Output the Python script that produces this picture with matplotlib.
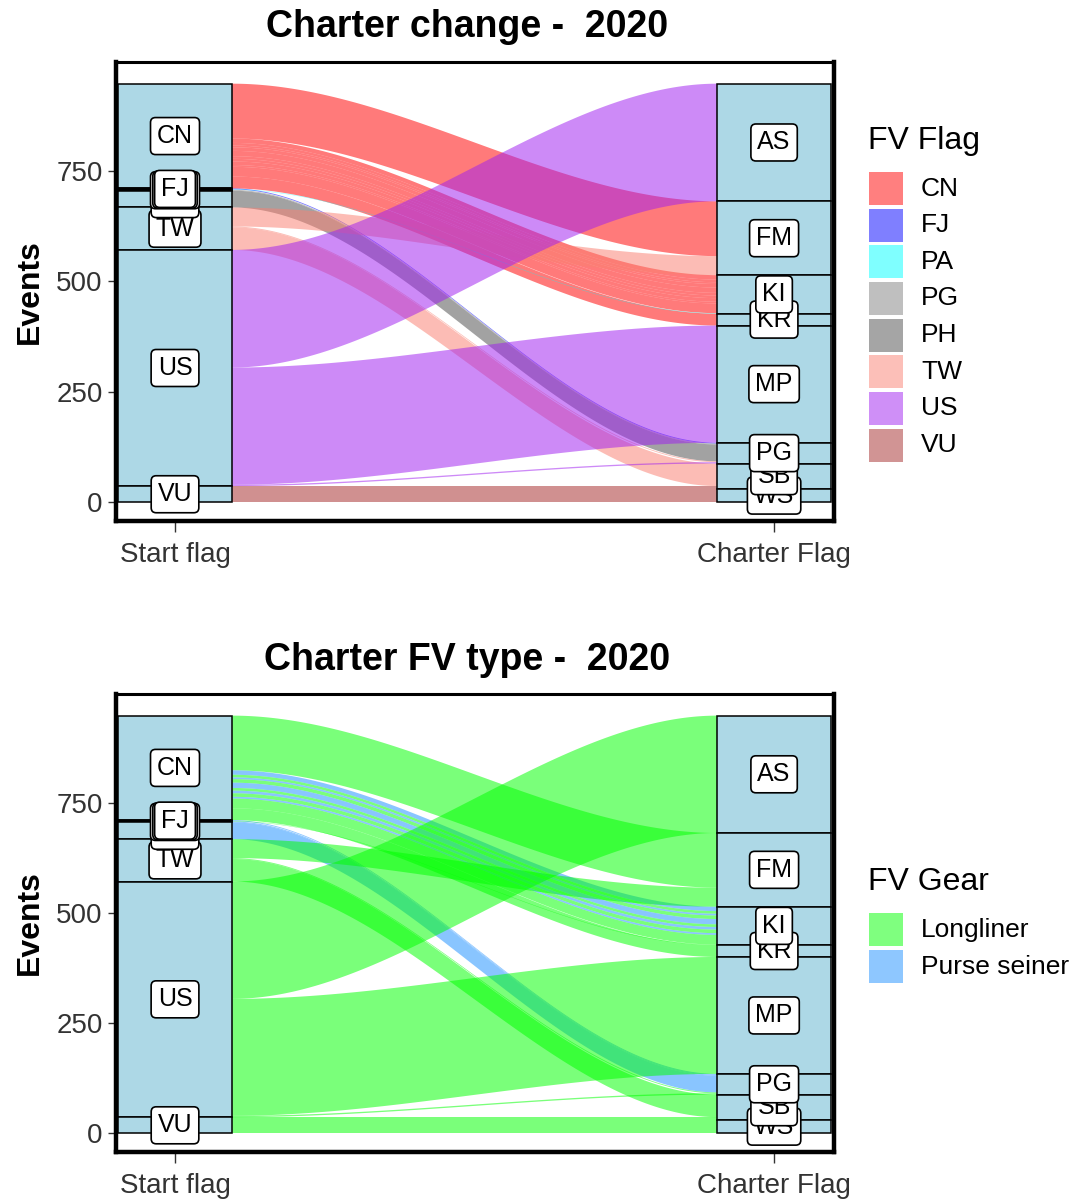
import numpy as np
import matplotlib
matplotlib.use("Agg")
import matplotlib.pyplot as plt
from matplotlib.patches import Rectangle

plt.rcParams['font.family'] = ['Liberation Sans', 'DejaVu Sans']

# ---------------- data ----------------
start_levels = ["CN", "FJ", "PA", "PG", "PH", "TW", "US", "VU"]
charter_levels = ["AS", "FM", "KI", "KR", "MP", "PG", "SB", "WS"]

flow_start = ["CN", "CN", "CN", "CN", "CN", "CN", "CN", "CN", "CN", "CN", "CN", "CN",
              "FJ", "PA", "PG", "PH", "TW", "TW", "TW", "US", "US", "US", "VU", "VU"]
flow_charter = ["FM", "KI", "KI", "KI", "KI", "KI", "KI", "KI", "KI", "KI", "KI", "KR",
                "PG", "KI", "PG", "PG", "FM", "PG", "SB", "AS", "MP", "PG", "SB", "WS"]
flow_gear = ["Longliner", "Purse seiner", "Longliner", "Purse seiner", "Longliner",
             "Purse seiner", "Longliner", "Purse seiner", "Longliner", "Purse seiner",
             "Longliner", "Longliner",
             "Purse seiner", "Longliner", "Purse seiner", "Purse seiner",
             "Longliner", "Longliner", "Longliner", "Longliner", "Longliner", "Longliner",
             "Longliner", "Longliner"]
flow_n = [124, 10, 6, 4, 8, 12, 6, 6, 8, 4, 22, 27,
          2, 1, 2, 38, 43, 2, 51, 266, 265, 3, 6, 31]

flag_levels = ["CN", "FJ", "PA", "PG", "PH", "TW", "US", "VU"]
flag_base = ["#FF0000", "#0000FF", "#00FFFF", "#808080", "#4D4D4D", "#FA8072", "#A020F0", "#A52A2A"]
gear_levels = ["Longliner", "Purse seiner"]
gear_base = ["#00FF00", "#1E90FF"]

y_ticks = [0, 250, 500, 750]
x_labels = ["Start flag", "Charter Flag"]
titles = ["Charter change -  2020", "Charter FV type -  2020"]

# ---------------- layout helpers ----------------
W = 0.19          # stratum width (x units)
n_flows = len(flow_n)
FW, FH = 1086, 1203


def stack_positions(axis_vals, other_vals, levels, other_levels):
    totals = {lv: 0 for lv in levels}
    for v, n in zip(axis_vals, flow_n):
        totals[v] += n
    grand = sum(totals.values())
    strata = {}
    top = grand
    for lv in levels:
        strata[lv] = (top - totals[lv], top)
        top -= totals[lv]
    lodes = [None] * n_flows
    for lv in levels:
        idx = [i for i in range(n_flows) if axis_vals[i] == lv]
        idx.sort(key=lambda i: (other_levels.index(other_vals[i]), i))
        t = strata[lv][1]
        for i in idx:
            lodes[i] = (t - flow_n[i], t)
            t -= flow_n[i]
    return strata, lodes


left_strata, left_lodes = stack_positions(flow_start, flow_charter, start_levels, charter_levels)
right_strata, right_lodes = stack_positions(flow_charter, flow_start, charter_levels, start_levels)

x0, x1 = 1 + W / 2, 2 - W / 2
xs = np.linspace(x0, x1, 200)
tt = (xs - x0) / (x1 - x0)
ss = tt * tt * (3 - 2 * tt)


def draw_panel(ax, colour_of):
    for i in range(n_flows):
        lb, lt = left_lodes[i]
        rb, rt = right_lodes[i]
        bot = lb + (rb - lb) * ss
        top = lt + (rt - lt) * ss
        ax.fill_between(xs, bot, top, facecolor=colour_of(i), alpha=0.52,
                        linewidth=0, zorder=2)
    for xc, strata, levels in ((1, left_strata, start_levels), (2, right_strata, charter_levels)):
        for lv in levels:
            b, t = strata[lv]
            ax.add_patch(Rectangle((xc - W / 2, b), W, t - b, facecolor="#ADD8E6",
                                   edgecolor="black", linewidth=1.1, zorder=3))
        for lv in reversed(levels):
            b, t = strata[lv]
            ax.text(xc, (b + t) / 2, lv, ha="center", va="center", fontsize=18,
                    zorder=4,
                    bbox=dict(boxstyle="round,pad=0.26,rounding_size=0.2",
                              facecolor="white", edgecolor="black", linewidth=1.2))
    ax.set_xlim(0.9015, 2.1)
    ax.set_ylim(-42, 996)
    ax.set_yticks(y_ticks)
    ax.set_yticklabels([str(v) for v in y_ticks])
    ax.set_xticks([1, 2])
    ax.set_xticklabels(x_labels)
    ax.tick_params(axis="both", labelsize=20, length=6, width=1, color="#333333",
                   labelcolor="#333333")
    ax.tick_params(axis="x", pad=7, length=8)
    ax.set_ylabel("Events", fontsize=23, fontweight="bold", labelpad=8)
    for side in ("left", "bottom", "right"):
        ax.spines[side].set_linewidth(3.2)
    ax.spines["top"].set_linewidth(2.2)


fig = plt.figure(figsize=(FW / 100, FH / 100), dpi=100)
ax1 = fig.add_axes([116 / FW, 1 - 521 / FH, (834 - 116) / FW, (521 - 62) / FH])
ax2 = fig.add_axes([116 / FW, 1 - 1152 / FH, (834 - 116) / FW, (1152 - 694) / FH])

flag_col = dict(zip(flag_levels, flag_base))
gear_col = dict(zip(gear_levels, gear_base))

draw_panel(ax1, lambda i: flag_col[flow_start[i]])
draw_panel(ax2, lambda i: gear_col[flow_gear[i]])

fig.text(467 / FW, 1 - 27 / FH, titles[0], ha="center", va="center",
         fontsize=27, fontweight="bold")
fig.text(467 / FW, 1 - 660 / FH, titles[1], ha="center", va="center",
         fontsize=27, fontweight="bold")


def add_legend(title, levels, colours, title_y, first_y, step):
    fig.text(868 / FW, 1 - title_y / FH, title, ha="left", va="center", fontsize=23)
    for k, (lab, col) in enumerate(zip(levels, colours)):
        yc = first_y + k * step
        fig.patches.append(Rectangle((869 / FW, 1 - (yc + 16.5) / FH), 34 / FW, 33 / FH,
                                     transform=fig.transFigure, facecolor=col, alpha=0.5,
                                     edgecolor="none"))
        fig.text(921 / FW, 1 - yc / FH, lab, ha="left", va="center", fontsize=19)


add_legend("FV Flag", flag_levels, flag_base, 141, 188.5, 36.65)
add_legend("FV Gear", gear_levels, gear_base, 882, 929.5, 37)

fig.savefig("out.png", dpi=100)
